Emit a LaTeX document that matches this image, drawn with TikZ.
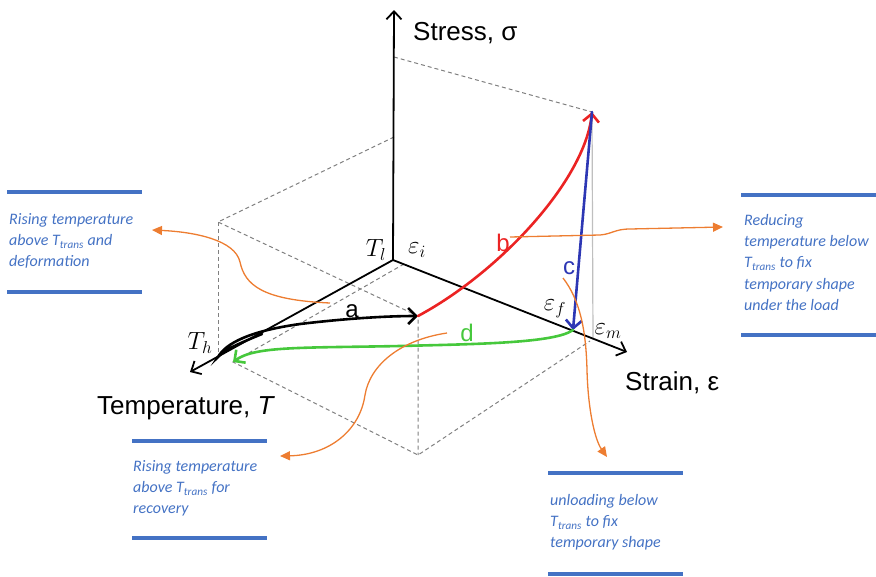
\documentclass[tikz,border=0pt]{standalone}
\usepackage{fontspec}
\setmainfont{Liberation Sans}
\newfontfamily\notefont{Carlito}
\usetikzlibrary{arrows.meta}
\definecolor{noteblue}{RGB}{68,114,196}
\definecolor{callorange}{RGB}{237,125,49}
\definecolor{pathred}{RGB}{235,35,35}
\definecolor{pathblue}{RGB}{45,55,180}
\definecolor{pathgreen}{RGB}{70,200,60}

\begin{document}
\begin{tikzpicture}[x=1pt, y=-1pt,
  axis/.style={line width=1.8pt, -{Straight Barb[length=8pt,width=15pt]}},
  boxedge/.style={gray, line width=1pt, dash pattern=on 4pt off 3pt},
  load/.style={line width=2.6pt, line cap=round, -{Straight Barb[length=8pt,width=16pt]}},
  callout/.style={callorange, line width=1.3pt, -{Triangle[length=10pt,width=9pt]}},
  notebar/.style={noteblue, line width=4.5pt},
  note/.style={noteblue, font=\notefont\itshape\fontsize{16}{21.3}\selectfont, align=left, anchor=north west, inner sep=0pt},
  axislabel/.style={font=\fontsize{26}{30}\selectfont, anchor=west, inner sep=0pt},
  pointlabel/.style={font=\fontsize{26}{30}\selectfont, inner sep=0pt},
  pathlabel/.style={font=\fontsize{24}{28}\selectfont, inner sep=0pt}]
  \useasboundingbox (0,0) rectangle (876,576);
  % key points
  \coordinate (O) at (393,260);
  \coordinate (sigtip) at (394,10);
  \coordinate (Ttip) at (190,372);
  \coordinate (epstip) at (627,352);
  \coordinate (S0) at (218,357);
  \coordinate (A) at (418,316);
  \coordinate (P) at (592,112);
  \coordinate (F) at (573,330);
  \coordinate (H) at (233,362);
  \coordinate (B) at (418,455);
  \coordinate (K) at (218,222);
  \coordinate (M) at (593,339);
  % dashed box
  \draw[boxedge] (394,57) -- (P);
  \draw[boxedge] (394,137) -- (K) -- (A) -- (B);
  \draw[boxedge] (K) -- (218,357);
  \draw[boxedge] (404,264) -- (H) -- (B) -- (590,341);
  \draw[gray!50, line width=1.2pt] (P) -- (M);
  % axes
  \draw[axis] (O) -- (sigtip);
  \draw[axis] (O) -- (Ttip);
  \draw[axis] (O) -- (epstip);
  \node[axislabel] (sig) at (413,33) {Stress, σ};
  \node[axislabel] (temp) at (97,408) {Temperature, \textit{T}};
  \node[axislabel] (eps) at (625,383) {Strain, ε};
  \node[pointlabel] (Tl) at (376,250) {$T_l$};
  \node[pointlabel] (ei) at (417,250) {$\varepsilon_i$};
  \node[pointlabel] (Th) at (200,343) {$T_h$};
  \node[pointlabel] (ef) at (555,309) {$\varepsilon_f$};
  \node[pointlabel] (em) at (608,331) {$\varepsilon_m$};
  % loading path
  \draw[load] (262,334) .. controls (240,343) and (224,350) .. (S0) .. controls (226,343) and (250,331) .. (300,324) .. controls (350,318) and (390,316) .. (A);
  \draw[load, pathred] (A) .. controls (500,272) and (585,180) .. (P);
  \draw[load, pathblue] (P) -- (F);
  \draw[load, pathgreen] (F) .. controls (555,343) and (480,344) .. (400,346) .. controls (300,348) and (255,346) .. (H);
  \node[pathlabel] (a) at (352,311) {a};
  \node[pathlabel, pathred] (b) at (503,243) {b};
  \node[pathlabel, pathblue] (c) at (569,268) {c};
  \node[pathlabel, pathgreen] (d) at (467,333) {d};
  % callouts
  \draw[callout] (330,303) .. controls (262,300) and (245,285) .. (240,262) .. controls (235,240) and (195,232) .. (152,230);
  \draw[callout] (510,237) -- (600,235) .. controls (612,234) and (615,229) .. (630,229) -- (723,227);
  \draw[callout] (447,333) .. controls (400,340) and (370,365) .. (365,395) .. controls (360,430) and (330,455) .. (280,456);
  \draw[callout] (563,278) .. controls (580,300) and (586,330) .. (587,370) .. controls (588,410) and (595,440) .. (607,457);
  % notes
  \draw[notebar] (7,192) -- (142,192);
  \draw[notebar] (7,292) -- (142,292);
  \node[note] (n1) at (9,213) {Rising temperature\\above T\textsubscript{trans} and\\deformation};
  \draw[notebar] (741,195) -- (876,195);
  \draw[notebar] (741,335) -- (876,335);
  \node[note] (n2) at (744,214) {Reducing\\temperature below\\T\textsubscript{trans} to fix\\temporary shape\\under the load};
  \draw[notebar] (132,441) -- (267,441);
  \draw[notebar] (132,538) -- (267,538);
  \node[note] (n3) at (133,460) {Rising temperature\\above T\textsubscript{trans} for\\recovery};
  \draw[notebar] (548,473) -- (683,473);
  \draw[notebar] (548,574) -- (683,574);
  \node[note] (n4) at (550,494) {unloading below\\T\textsubscript{trans} to fix\\temporary shape};
\end{tikzpicture}
\end{document}
